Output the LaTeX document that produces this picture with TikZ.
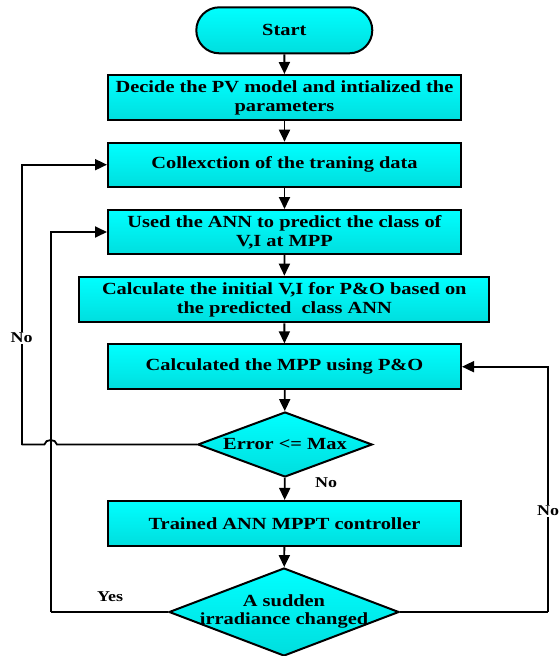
\documentclass[tikz,border=0pt]{standalone}
\usepackage{fontspec}
\setmainfont{Liberation Serif}[FakeStretch=1.2]
\usetikzlibrary{arrows.meta,shapes.geometric}
\definecolor{cyantop}{RGB}{0,255,255}
\definecolor{cyanbot}{RGB}{0,222,222}
\tikzset{
  boxshade/.style={top color=cyantop, bottom color=cyanbot},
  procbox/.style={draw, line width=2pt, boxshade, inner sep=0pt,
    align=center, font=\fontsize{17}{19}\selectfont\bfseries},
  termbox/.style={procbox, rounded corners=23pt},
  decbox/.style={draw, line width=2pt, boxshade, shape=diamond, inner sep=0pt},
  dectext/.style={align=center, font=\fontsize{17}{18}\selectfont\bfseries},
  flow/.style={line width=1.8pt, -{Triangle[length=12pt,width=11pt]}},
  link/.style={line width=1.8pt},
  lbl/.style={font=\fontsize{15}{16}\selectfont\bfseries, inner sep=1pt}
}
\begin{document}
\begin{tikzpicture}[x=1pt,y=-1pt]
\useasboundingbox (0,0) rectangle (559,656);

% process blocks
\node[termbox, minimum width=176pt, minimum height=46pt] (start) at (284.3,30.3) {Start};
\node[procbox, minimum width=353pt, minimum height=45pt] (b1) at (284.5,97.5)
  {Decide the PV model and intialized the\\parameters};
\node[procbox, minimum width=353pt, minimum height=44pt] (b2) at (284.5,164.7)
  {Collexction of the traning data};
\node[procbox, minimum width=353pt, minimum height=44pt] (b3) at (284.5,232)
  {Used the ANN to predict the class of\\V,I at MPP};
\node[procbox, minimum width=410pt, minimum height=45.6pt] (b4) at (284.3,299.5)
  {Calculate the initial V,I for P\&O based on\\the predicted\ \ class ANN};
\node[procbox, minimum width=353pt, minimum height=44.7pt] (b5) at (284.5,366.7)
  {Calculated the MPP using P\&O};
\node[decbox, minimum width=174.5pt, minimum height=65pt] (d1) at (285,444.5) {};
\node[dectext] (d1t) at (d1) {Error <= Max};
\node[procbox, minimum width=353pt, minimum height=44.7pt] (b6) at (284.5,523.3)
  {Trained ANN MPPT controller};
\node[decbox, minimum width=230pt, minimum height=88pt] (d2) at (284,612) {};
\node[dectext] (d2t) at (284,611) {A sudden\\irradiance changed};

% main flow
\draw[flow] (start) -- (b1);
\draw[flow] (b1) -- (b2);
\draw[flow] (b2) -- (b3);
\draw[flow] (b3) -- (b4);
\draw[flow] (b4) -- (b5);
\draw[flow] (b5) -- (d1);
\draw[flow] (d1) -- (b6);
\draw[flow] (b6) -- (d2);

% loop back to data collection, hopping over the inner loop
\coordinate (hopR) at (57,444.5);
\coordinate (hopL) at (44.4,444.5);
\coordinate (outerC) at (21.7,444.5);
\draw[link] (d1.west) -- (hopR) .. controls (56,438.5) and (45.4,438.5) .. (hopL) -- (outerC);
\draw[flow] (outerC) |- (b2.west);

% loop back to the ANN prediction
\coordinate (innerC) at (50.7,612);
\draw[link] (d2.west) -- (innerC);
\draw[flow] (innerC) |- (b3.west);

% loop back to P&O
\coordinate (rightC) at (548,612);
\draw[link] (d2.east) -- (rightC);
\draw[flow] (rightC) |- (b5.east);

% branch labels
\node[lbl, fill=white] (noA) at (21.7,338) {No};
\node[lbl] (noB) at (326,483) {No};
\node[lbl] (yes) at (110,597) {Yes};
\node[lbl, fill=white] (noC) at (548,511) {No};
\end{tikzpicture}
\end{document}
